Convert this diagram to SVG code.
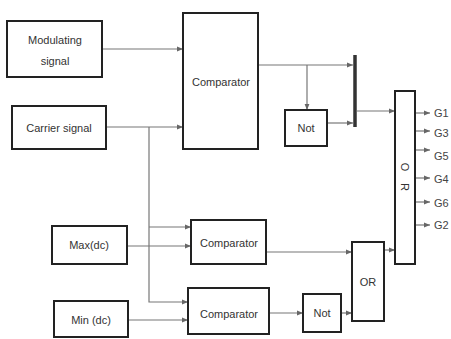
<svg xmlns="http://www.w3.org/2000/svg" width="451" height="339" viewBox="0 0 451 339">
<style>
.box{fill:#fff;stroke:#222;stroke-width:2}
.t{font-family:"Liberation Sans",Arial,sans-serif;font-size:11px;fill:#333;text-anchor:middle;dominant-baseline:central}
.g{font-family:"Liberation Sans",Arial,sans-serif;font-size:11px;fill:#444;dominant-baseline:central}
.c{fill:none;stroke:#777;stroke-width:1.2}
</style>
<defs>
<marker id="a" viewBox="0 0 10 10" refX="10" refY="5" markerWidth="6" markerHeight="6" orient="auto" markerUnits="userSpaceOnUse">
<path d="M0,1 L10,5 L0,9 z" fill="#666"/>
</marker>
</defs>
<rect width="451" height="339" fill="#fff"/>
<g id="connectors">
<path class="c" d="M102,49 H183" marker-end="url(#a)"/>
<path class="c" d="M106,127 H183" marker-end="url(#a)"/>
<path class="c" d="M149,127 V302 H188" marker-end="url(#a)"/>
<path class="c" d="M149,227 H191" marker-end="url(#a)"/>
<path class="c" d="M127,246 H191" marker-end="url(#a)"/>
<path class="c" d="M128,320 H188" marker-end="url(#a)"/>
<path class="c" d="M258,65 H353" marker-end="url(#a)"/>
<path class="c" d="M307,65 V110" marker-end="url(#a)"/>
<path class="c" d="M327,123 H353" marker-end="url(#a)"/>
<path class="c" d="M357,111 H395" marker-end="url(#a)"/>
<path class="c" d="M266,252 H352" marker-end="url(#a)"/>
<path class="c" d="M269,313 H303" marker-end="url(#a)"/>
<path class="c" d="M341,313 H352" marker-end="url(#a)"/>
<path class="c" d="M384,250 H395" marker-end="url(#a)"/>
<path class="c" d="M415,113 H430" marker-end="url(#a)"/>
<path class="c" d="M415,131 H430" marker-end="url(#a)"/>
<path class="c" d="M415,150 H430" marker-end="url(#a)"/>
<path class="c" d="M415,178 H430" marker-end="url(#a)"/>
<path class="c" d="M415,202 H430" marker-end="url(#a)"/>
<path class="c" d="M415,225 H430" marker-end="url(#a)"/>
</g>
<g id="bar"><line x1="355" y1="55" x2="355" y2="127" stroke="#333" stroke-width="3.5"/></g>
<g id="modulating"><rect class="box" x="7" y="21" width="95" height="56"/><text class="t" x="55" y="40">Modulating</text><text class="t" x="55" y="61">signal</text></g>
<g id="carrier"><rect class="box" x="12" y="106" width="94" height="43"/><text class="t" x="59" y="128">Carrier signal</text></g>
<g id="comparator0"><rect class="box" x="183" y="13" width="75" height="136"/><text class="t" x="221" y="82">Comparator</text></g>
<g id="not1"><rect class="box" x="285" y="110" width="42" height="36"/><text class="t" x="306" y="128">Not</text></g>
<g id="or1"><rect class="box" x="395" y="91" width="20" height="173"/><text class="t" x="405" y="167" transform="rotate(90 405 167)">O</text><text class="t" x="405" y="187" transform="rotate(90 405 187)">R</text></g>
<g id="labels">
<text class="g" x="434" y="113">G1</text>
<text class="g" x="434" y="133">G3</text>
<text class="g" x="434" y="156">G5</text>
<text class="g" x="434" y="179">G4</text>
<text class="g" x="434" y="203">G6</text>
<text class="g" x="434" y="225">G2</text>
</g>
<g id="max"><rect class="box" x="52" y="226" width="75" height="38"/><text class="t" x="89" y="245">Max(dc)</text></g>
<g id="min"><rect class="box" x="54" y="301" width="74" height="36"/><text class="t" x="91" y="320">Min (dc)</text></g>
<g id="comparator1"><rect class="box" x="191" y="220" width="75" height="44"/><text class="t" x="229" y="243">Comparator</text></g>
<g id="comparator2"><rect class="box" x="188" y="288" width="81" height="46"/><text class="t" x="229" y="314">Comparator</text></g>
<g id="not2"><rect class="box" x="303" y="294" width="38" height="38"/><text class="t" x="322" y="313">Not</text></g>
<g id="or2"><rect class="box" x="352" y="242" width="32" height="79"/><text class="t" x="368" y="282">OR</text></g>
</svg>
